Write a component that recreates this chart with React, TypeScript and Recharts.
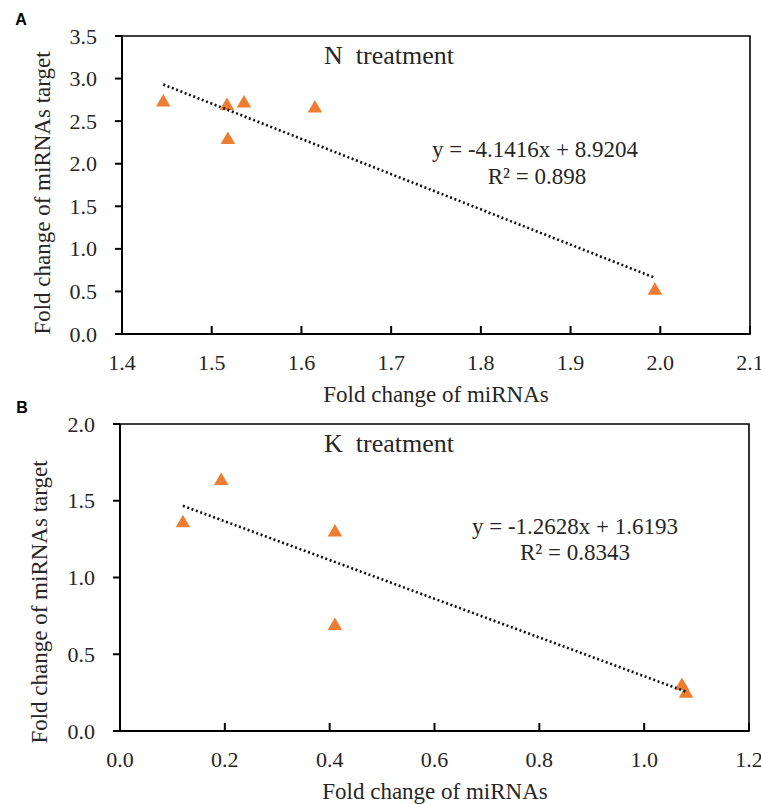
import React from "react";
import {
  ScatterChart,
  Scatter,
  XAxis,
  YAxis,
  ReferenceArea,
} from "recharts";

// panel A: N treatment
const nFoldMirna = [1.446, 1.517, 1.518, 1.536, 1.615, 1.994];
const nFoldTarget = [2.73, 2.69, 2.29, 2.72, 2.66, 0.52];
const nTrendX = [1.446, 1.994];
const nTrendY = [2.93, 0.66];
const nXTicks = [1.4, 1.5, 1.6, 1.7, 1.8, 1.9, 2.0, 2.1];
const nYTicks = [0, 0.5, 1.0, 1.5, 2.0, 2.5, 3.0, 3.5];

// panel B: K treatment
const kFoldMirna = [0.12, 0.193, 0.41, 0.41, 1.072, 1.08];
const kFoldTarget = [1.36, 1.635, 1.3, 0.69, 0.3, 0.25];
const kTrendX = [0.12, 1.08];
const kTrendY = [1.467, 0.256];
const kXTicks = [0, 0.2, 0.4, 0.6, 0.8, 1.0, 1.2];
const kYTicks = [0, 0.5, 1.0, 1.5, 2.0];

const SERIF = "Liberation Serif, Times New Roman, serif";
const ORANGE = "#ED7D31";
const TXT = "#262626";

const zip = (xs: number[], ys: number[]) => xs.map((x, i) => ({ x, y: ys[i] }));

// triangle marker, centred on the scaled point
function Tri(p: any) {
  const { cx, cy } = p;
  if (cx == null || cy == null) return <g />;
  const h = 12.5;
  const w = 14.5;
  return (
    <path
      d={`M${cx},${cy - h * 0.6} L${cx + w / 2},${cy + h * 0.4} L${cx - w / 2},${cy + h * 0.4} Z`}
      fill={ORANGE}
    />
  );
}

function XTick(p: any) {
  return (
    <text x={p.x} y={p.y + 15} textAnchor="middle" fontFamily={SERIF} fontSize={22} fill={TXT}>
      {Number(p.payload.value).toFixed(1)}
    </text>
  );
}

function YTick(p: any) {
  return (
    <text x={p.x} y={p.y + 7.5} textAnchor="end" fontFamily={SERIF} fontSize={22} fill={TXT}>
      {Number(p.payload.value).toFixed(1)}
    </text>
  );
}

function Panel(props: {
  top: number;
  height: number;
  margin: { top: number; right: number; left: number; bottom: number };
  yAxisWidth: number;
  xAxisHeight: number;
  points: { x: number; y: number }[];
  trend: { x: number; y: number }[];
  xTicks: number[];
  yTicks: number[];
}) {
  const xd = [props.xTicks[0], props.xTicks[props.xTicks.length - 1]];
  const yd = [props.yTicks[0], props.yTicks[props.yTicks.length - 1]];
  return (
    <div style={{ position: "absolute", left: 0, top: props.top }}>
      <ScatterChart width={761} height={props.height} margin={props.margin}>
        <XAxis
          type="number"
          dataKey="x"
          domain={xd}
          ticks={props.xTicks}
          height={props.xAxisHeight}
          tick={<XTick />}
          tickSize={-8}
          tickMargin={29}
          axisLine={{ stroke: "#000", strokeWidth: 2 }}
          tickLine={{ stroke: "#000", strokeWidth: 2 }}
          interval={0}
        />
        <YAxis
          type="number"
          dataKey="y"
          domain={yd}
          ticks={props.yTicks}
          width={props.yAxisWidth}
          tick={<YTick />}
          tickSize={7}
          tickMargin={18}
          axisLine={{ stroke: "#000", strokeWidth: 2 }}
          tickLine={{ stroke: "#000", strokeWidth: 2 }}
          interval={0}
        />
        <ReferenceArea
          x1={xd[0]}
          x2={xd[1]}
          y1={yd[0]}
          y2={yd[1]}
          fill="none"
          stroke="#000"
          strokeWidth={1.6}
          fillOpacity={0}
        />
        <Scatter data={props.points} shape={<Tri />} fill={ORANGE} isAnimationActive={false} />
        <Scatter
          data={props.trend}
          line={{ stroke: "#111", strokeWidth: 2.6, strokeDasharray: "2 2.6" }}
          shape={() => <g />}
          isAnimationActive={false}
        />
      </ScatterChart>
    </div>
  );
}

function Txt(props: { x: number; y: number; size: number; children: React.ReactNode; rotate?: boolean; bold?: boolean; sans?: boolean }) {
  return (
    <div
      style={{
        position: "absolute",
        left: props.x,
        top: props.y,
        transform: `translate(-50%, -50%)${props.rotate ? " rotate(-90deg)" : ""}`,
        fontFamily: props.sans ? "Liberation Sans, Arial, sans-serif" : SERIF,
        fontWeight: props.bold ? 700 : 400,
        fontSize: props.size,
        color: props.sans ? "#000" : TXT,
        whiteSpace: "pre",
      }}
    >
      {props.children}
    </div>
  );
}

export default function App() {
  return (
    <div style={{ position: "absolute", left: 0, top: 0, width: 761, height: 804, background: "#fff", overflow: "hidden" }}>
      <Panel
        top={0}
        height={404}
        margin={{ top: 36, right: 11, left: 0, bottom: 0 }}
        yAxisWidth={122}
        xAxisHeight={70}
        points={zip(nFoldMirna, nFoldTarget)}
        trend={zip(nTrendX, nTrendY)}
        xTicks={nXTicks}
        yTicks={nYTicks}
      />
      <Panel
        top={404}
        height={400}
        margin={{ top: 20, right: 12, left: 0, bottom: 0 }}
        yAxisWidth={120}
        xAxisHeight={73}
        points={zip(kFoldMirna, kFoldTarget)}
        trend={zip(kTrendX, kTrendY)}
        xTicks={kXTicks}
        yTicks={kYTicks}
      />

      <Txt x={21} y={20} size={16} bold sans>A</Txt>
      <Txt x={389} y={56} size={26}>N  treatment</Txt>
      <Txt x={535} y={150} size={23}>y = -4.1416x + 8.9204</Txt>
      <Txt x={537} y={177} size={23}>R² = 0.898</Txt>
      <Txt x={436} y={395} size={23}>Fold change of miRNAs</Txt>
      <Txt x={43} y={193} size={23} rotate>Fold change of miRNAs target</Txt>

      <Txt x={22} y={408} size={16} bold sans>B</Txt>
      <Txt x={389} y={444} size={26}>K  treatment</Txt>
      <Txt x={575} y={527} size={23}>y = -1.2628x + 1.6193</Txt>
      <Txt x={575} y={553} size={23}>R² = 0.8343</Txt>
      <Txt x={435} y={792} size={23}>Fold change of miRNAs</Txt>
      <Txt x={40} y={602} size={23} rotate>Fold change of miRNAs target</Txt>
    </div>
  );
}
